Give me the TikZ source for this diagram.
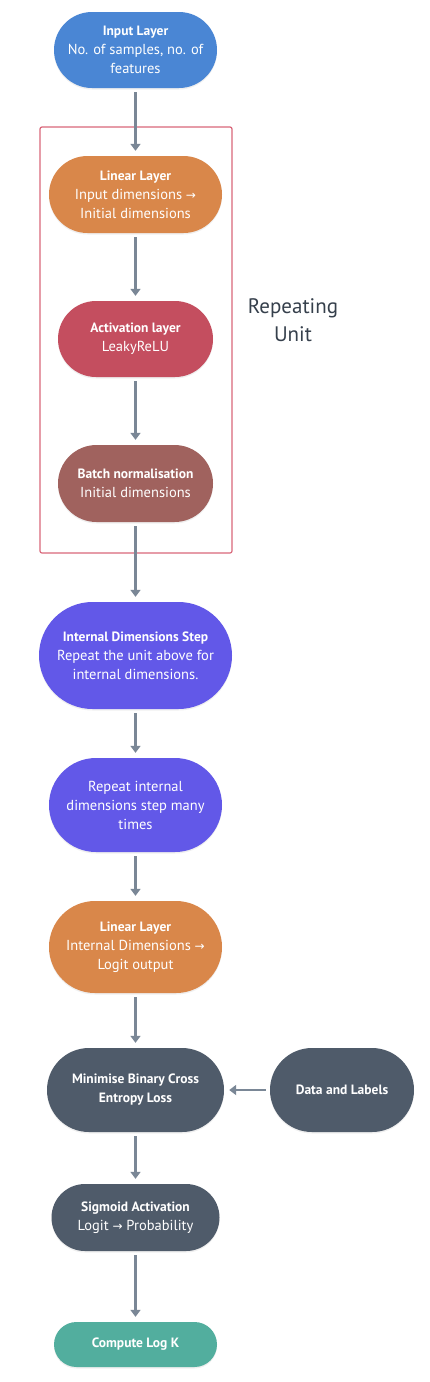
\documentclass[tikz,border=0pt]{standalone}
\usepackage{fontspec}
\setmainfont{PT Sans}
\newfontfamily\symfont{DejaVu Sans}
\newcommand{\rarr}{{\symfont\fontsize{12}{19}\selectfont →}}
\newcommand{\ttl}[1]{{\fontsize{13.5}{19}\selectfont\bfseries #1}}
\usetikzlibrary{arrows.meta,shadows}
\definecolor{cblue}{HTML}{4A86D4}
\definecolor{corange}{HTML}{D9874A}
\definecolor{cred}{HTML}{C44E5F}
\definecolor{cbrown}{HTML}{A0625E}
\definecolor{cpurple}{HTML}{6258E8}
\definecolor{cslate}{HTML}{4F5B6A}
\definecolor{cteal}{HTML}{52AE9E}
\definecolor{carrow}{HTML}{7A8796}
\definecolor{cframe}{HTML}{D9677A}
\definecolor{ctext}{HTML}{36404C}
\tikzset{
  pill/.style n args={3}{draw=none, fill=#1, text=white, align=center,
    minimum width=#2, minimum height=#3, rounded corners=#3/2, inner sep=0pt,
    font=\fontsize{14.5}{19}\selectfont,
    drop shadow={opacity=0.12, shadow xshift=0pt, shadow yshift=-1.5pt}},
  conn/.style={draw=carrow, line width=2.4pt, -{Triangle[length=7pt,width=10pt]},
    shorten <=4pt, shorten >=5pt},
  frame/.style={draw=cframe, line width=1.2pt, rounded corners=2pt},
}
\begin{document}
\begin{tikzpicture}[x=1pt,y=-1pt]
\useasboundingbox[fill=white] (0,0) rectangle (430,1382);
\node[frame, minimum width=192pt, minimum height=426pt, inner sep=0pt] (fr) at (136,340) {};
\node[text=ctext, align=center, font=\fontsize{21}{28}\selectfont] (ru) at (293,320) {Repeating\\Unit};
\node[pill={cblue}{163pt}{76pt}] (in) at (135.5,50) {\ttl{Input Layer}\\No. of samples, no. of\\features};
\node[pill={corange}{173pt}{77pt}] (lin1) at (135.5,194.5) {\ttl{Linear Layer}\\Input dimensions \rarr\\Initial dimensions};
\node[pill={cred}{155pt}{76pt}] (act) at (135.5,339) {\ttl{Activation layer}\\LeakyReLU};
\node[pill={cbrown}{155pt}{77pt}] (bn) at (135.5,483.5) {\ttl{Batch normalisation}\\Initial dimensions};
\node[pill={cpurple}{193pt}{107pt}] (ids) at (135.5,655.5) {\ttl{Internal Dimensions Step}\\Repeat the unit above for\\internal dimensions.};
\node[pill={cpurple}{173pt}{94pt}] (rep) at (135.5,805) {Repeat internal\\dimensions step many\\times};
\node[pill={corange}{173pt}{92pt}] (lin2) at (135.5,947) {\ttl{Linear Layer}\\Internal Dimensions \rarr\\Logit output};
\node[pill={cslate}{177pt}{84pt}] (bce) at (135.5,1090) {\ttl{Minimise Binary Cross}\\\ttl{Entropy Loss}};
\node[pill={cslate}{144pt}{84pt}] (dl) at (342,1090) {\ttl{Data and Labels}};
\node[pill={cslate}{168pt}{67pt}] (sig) at (135.5,1217.5) {\ttl{Sigmoid Activation}\\Logit \rarr{} Probability};
\node[pill={cteal}{163pt}{45pt}] (lk) at (135.5,1344.5) {\ttl{Compute Log K}};
\draw[conn] (in) -- (lin1);
\draw[conn] (lin1) -- (act);
\draw[conn] (act) -- (bn);
\draw[conn] (bn) -- (ids);
\draw[conn] (ids) -- (rep);
\draw[conn] (rep) -- (lin2);
\draw[conn] (lin2) -- (bce);
\draw[conn] (dl) -- (bce);
\draw[conn] (bce) -- (sig);
\draw[conn] (sig) -- (lk);
\end{tikzpicture}
\end{document}
